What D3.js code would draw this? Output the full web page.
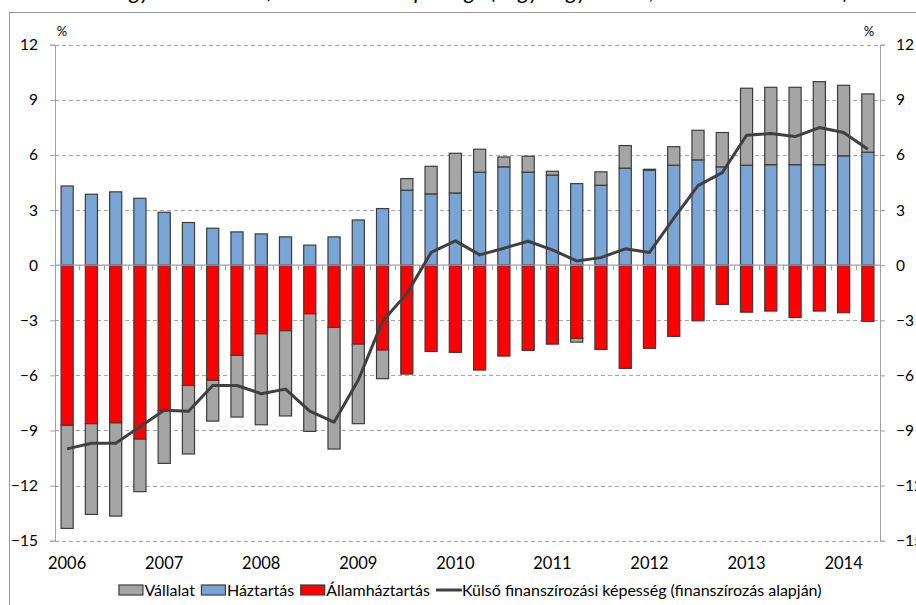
<!DOCTYPE html>
<html>
<head>
<meta charset="utf-8">
<script src="https://cdn.jsdelivr.net/npm/d3@7"></script>
<style>
  html, body { margin: 0; padding: 0; background: #fff; }
  svg { display: block; }
  text { font-family: Lato, "Open Sans", sans-serif; fill: #000; }
</style>
</head>
<body>
<svg id="chart" width="916" height="605"></svg>
<script>
// ---- data ----
const quarters = [
  "2006 Q1","2006 Q2","2006 Q3","2006 Q4",
  "2007 Q1","2007 Q2","2007 Q3","2007 Q4",
  "2008 Q1","2008 Q2","2008 Q3","2008 Q4",
  "2009 Q1","2009 Q2","2009 Q3","2009 Q4",
  "2010 Q1","2010 Q2","2010 Q3","2010 Q4",
  "2011 Q1","2011 Q2","2011 Q3","2011 Q4",
  "2012 Q1","2012 Q2","2012 Q3","2012 Q4",
  "2013 Q1","2013 Q2","2013 Q3","2013 Q4",
  "2014 Q1","2014 Q2"
];
const yearLabels = ["2006","2007","2008","2009","2010","2011","2012","2013","2014"];
const vallalat = [-5.61,-4.94,-5.07,-2.86,-2.87,-3.73,-2.22,-3.36,-4.95,-4.64,-6.40,-6.62,-4.33,-1.56,
  0.63,1.50,2.16,1.25,0.54,0.87,0.21,-0.20,0.73,1.23,0.05,1.01,1.61,1.87,4.19,4.21,4.21,4.52,3.84,3.17];
const haztartas = [4.31,3.86,3.99,3.64,2.88,2.32,2.01,1.81,1.70,1.54,1.09,1.54,2.46,3.08,4.08,3.88,3.93,
  5.06,5.35,5.06,4.90,4.44,4.35,5.28,5.17,5.44,5.73,5.35,5.44,5.47,5.47,5.47,5.95,6.15];
const allamhaztartas = [-8.72,-8.63,-8.59,-9.47,-7.92,-6.55,-6.27,-4.91,-3.74,-3.57,-2.65,-3.39,-4.30,-4.62,
  -5.93,-4.70,-4.75,-5.71,-4.95,-4.64,-4.30,-3.99,-4.59,-5.62,-4.53,-3.88,-3.03,-2.14,-2.56,-2.50,-2.85,-2.50,-2.59,-3.06];
const kulso = [-10.0,-9.7,-9.7,-8.8,-7.9,-7.95,-6.55,-6.55,-7.0,-6.75,-7.95,-8.55,-6.25,-3.05,-1.55,
  0.69,1.32,0.56,0.92,1.30,0.83,0.23,0.41,0.89,0.69,2.55,4.33,5.04,7.07,7.16,7.0,7.49,7.22,6.31];
const yTicks = [-15,-12,-9,-6,-3,0,3,6,9,12];
const seriesNames = ["Vállalat","Háztartás","Államháztartás","Külső finanszírozási képesség (finanszírozás alapján)"];
const titleText = "Az egyes szektorok finanszírozási képessége (négy negyedéves, a GDP százalékában)";

// ---- layout ----
const svg = d3.select("#chart");
const L = 55, R = 880, T = 44.7, B = 540.7;
const colors = { vallalat: "#A5A5A5", haztartas: "#78A4D6", allam: "#FF0000", line: "#404040" };

const x = d3.scaleBand().domain(quarters).range([L, R]).paddingInner(0.5).paddingOuter(0.25);
const y = d3.scaleLinear().domain([-15, 12]).range([B, T]);

// title (cut by the top edge, as in the reference)
svg.append("text").attr("x", 470).attr("y", -1).attr("text-anchor", "middle")
  .style("font-style", "italic").style("font-size", "22px").text(titleText);

// outer frame
svg.append("rect").attr("x", 9.5).attr("y", 12.5).attr("width", 930).attr("height", 620)
  .attr("fill", "none").attr("stroke", "#9a9a9a").attr("stroke-width", 1);

// gridlines
svg.append("g").selectAll("line").data(yTicks.filter(d => d !== 0)).join("line")
  .attr("x1", L).attr("x2", R)
  .attr("y1", d => Math.round(y(d)) + 0.5).attr("y2", d => Math.round(y(d)) + 0.5)
  .attr("stroke", "#a6a6a6").attr("stroke-dasharray", "4,3").attr("stroke-width", 1);

// axes
const axL = svg.append("g").attr("transform", `translate(${L},0)`)
  .call(d3.axisLeft(y).tickValues(yTicks).tickSize(5).tickPadding(12).tickFormat(d3.format("d")));
const axR = svg.append("g").attr("transform", `translate(${R},0)`)
  .call(d3.axisRight(y).tickValues(yTicks).tickSize(5).tickPadding(11).tickFormat(d3.format("d")));
[axL, axR].forEach(a => {
  a.select(".domain").attr("stroke", "#a0a0a0");
  a.selectAll(".tick line").attr("stroke", "#a0a0a0");
  a.selectAll("text").style("font-size", "15.5px").attr("fill", "#000");
});

// stacked bars
const rows = quarters.map((q, i) => ({ q, haztartas: haztartas[i], allam: allamhaztartas[i], vallalat: vallalat[i] }));
const stack = d3.stack().keys(["haztartas", "allam", "vallalat"]).offset(d3.stackOffsetDiverging);
const layers = stack(rows);
svg.append("g").selectAll("g").data(layers).join("g")
  .attr("fill", d => colors[d.key])
  .selectAll("rect").data(d => d).join("rect")
  .attr("x", d => x(d.data.q))
  .attr("width", x.bandwidth())
  .attr("y", d => y(Math.max(d[0], d[1])))
  .attr("height", d => Math.abs(y(d[0]) - y(d[1])))
  .attr("stroke", "#3c3c3c").attr("stroke-width", 1.2);

// zero axis with category ticks
const zx = svg.append("g");
zx.append("line").attr("x1", L).attr("x2", R).attr("y1", y(0)).attr("y2", y(0))
  .attr("stroke", "#a0a0a0").attr("stroke-width", 1.2);
const bounds = d3.range(quarters.length + 1).map(i => L + i * x.step());
zx.selectAll("line.t").data(bounds).join("line").attr("class", "t")
  .attr("x1", d => Math.round(d) + 0.5).attr("x2", d => Math.round(d) + 0.5)
  .attr("y1", y(0)).attr("y2", y(0) + 5).attr("stroke", "#a0a0a0");

// line
const line = d3.line().x((d, i) => x(quarters[i]) + x.bandwidth() / 2).y(d => y(d));
svg.append("path").datum(kulso).attr("d", line)
  .attr("fill", "none").attr("stroke", colors.line).attr("stroke-width", 3).attr("stroke-linejoin", "round");

// year labels
svg.append("g").selectAll("text").data(yearLabels).join("text")
  .attr("x", (d, i) => x(quarters[i * 4]) + x.bandwidth() / 2)
  .attr("y", 569).attr("text-anchor", "middle").style("font-size", "16.5px").text(d => d);

// % labels
svg.append("text").attr("x", 62).attr("y", 36).attr("text-anchor", "middle").style("font-size", "13px").text("%");
svg.append("text").attr("x", 869).attr("y", 36).attr("text-anchor", "middle").style("font-size", "13px").text("%");

// legend
const lg = svg.append("g");
const items = [
  { name: seriesNames[0], type: "box", c: colors.vallalat },
  { name: seriesNames[1], type: "box", c: colors.haztartas },
  { name: seriesNames[2], type: "box", c: colors.allam },
  { name: seriesNames[3], type: "line", c: colors.line }
];
let cx = 0;
const ly = 590;
items.forEach((it, k) => {
  const g = lg.append("g").attr("transform", `translate(${cx},0)`);
  if (it.type === "box") {
    g.append("rect").attr("x", 0.5).attr("y", ly - 5).attr("width", 24).attr("height", 10)
      .attr("fill", it.c).attr("stroke", "#3c3c3c").attr("stroke-width", 1.2);
  } else {
    g.append("line").attr("x1", 0).attr("x2", 26).attr("y1", ly).attr("y2", ly)
      .attr("stroke", it.c).attr("stroke-width", 3);
  }
  const t = g.append("text").attr("x", 26).attr("y", ly + 6).style("font-size", "16px").text(it.name);
  cx += 26 + t.node().getComputedTextLength() + 6;
});
const lw = cx - 6;
lg.attr("transform", `translate(${470 - lw / 2},0)`);
</script>
</body>
</html>
